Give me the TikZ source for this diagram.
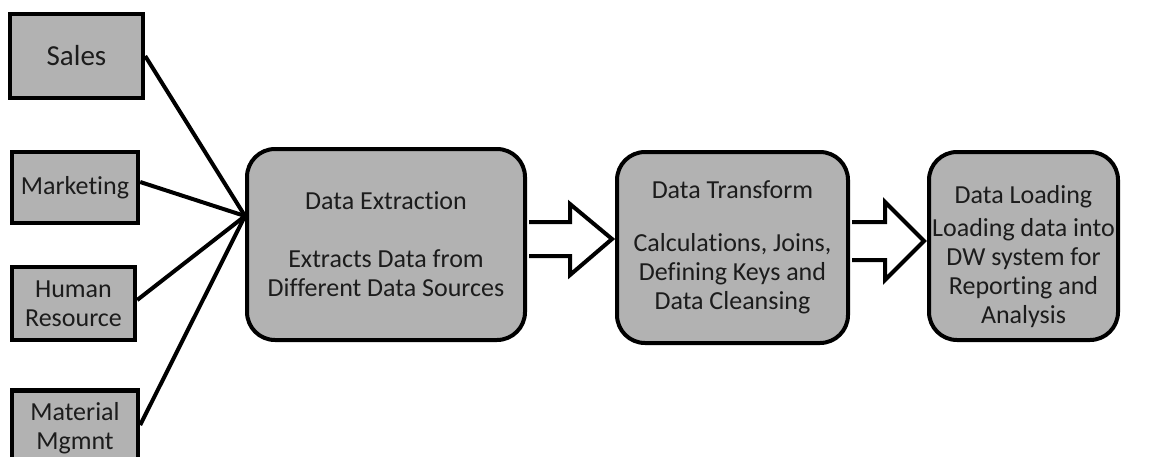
\documentclass[tikz,border=0pt]{standalone}
\usepackage{fontspec}
\setmainfont{Carlito}[Ligatures={NoCommon}]
\usetikzlibrary{calc}
\definecolor{boxgray}{RGB}{178,178,178}
\definecolor{inkgray}{RGB}{28,28,28}

\begin{document}
\begin{tikzpicture}[x=0.5pt,y=-0.5pt,
  src/.style={draw,line width=2.2pt,fill=boxgray,text=inkgray,align=center,
    inner sep=0pt,font=\fontsize{13}{14.5}\selectfont},
  stage/.style={draw,line width=2pt,fill=boxgray,rounded corners=14pt,text=inkgray,
    align=center,inner sep=0pt,minimum height=95.5pt,font=\fontsize{13}{14.5}\selectfont},
  fatarrow/.style={draw,line width=2pt,fill=white,line join=miter},
  link/.style={line width=2pt}]
  \path[use as bounding box,clip] (0,0) rectangle (1156,456);
  % sources
  \node[src,minimum width=66.5pt,minimum height=42pt,font=\fontsize{14.5}{16}\selectfont] (sales) at (76.5,56) {Sales};
  \node[src,minimum width=63pt,minimum height=35.5pt] (mkt) at (75,187.5) {Marketing};
  \node[src,minimum width=61.5pt,minimum height=36.5pt] (hr) at (73.5,303.5) {Human\\Resource};
  \node[src,minimum width=63pt,minimum height=37.5pt] (mat) at (75,428) {Material\\Mgmnt};
  % stages
  \node[stage,minimum width=139pt] (extract) at (386,244.5)
    {Data Extraction\\[14.5pt]Extracts Data from\\Different Data Sources};
  \node[stage,minimum width=115.5pt] (transform) at (732.5,247.5)
    {Data Transform\\[12pt]Calculations, Joins,\\Defining Keys and\\Data Cleansing};
  \node[stage,minimum width=94.5pt,minimum height=94pt] (load) at (1023.5,246)
    {\rule{0pt}{20pt}Data Loading\\[2pt]Loading data into\\DW system for\\Reporting and\\Analysis};
  % links into extraction
  \coordinate (hub) at (245,216);
  \draw[link] (sales.east) -- (hub);
  \draw[link] ([yshift=2.75pt]mkt.east) -- (hub);
  \draw[link] ([yshift=1.75pt]hr.east) -- (hub);
  \draw[link] ([yshift=1.5pt]mat.east) -- (hub);
  % block arrows
  \coordinate (e1) at ([xshift=1pt]extract.east);
  \coordinate (t1) at ([xshift=-1.5pt]transform.west);
  \draw[fatarrow] (e1 |- 0,222) -- (570,222) -- (570,204) -- (t1 |- 0,239)
    -- (570,275) -- (570,256) -- (e1 |- 0,256);
  \coordinate (e2) at ([xshift=1pt]transform.east);
  \coordinate (t2) at ([xshift=-1.5pt]load.west);
  \draw[fatarrow] (e2 |- 0,222) -- (885,222) -- (885,202) -- (t2 |- 0,241)
    -- (885,280) -- (885,260) -- (e2 |- 0,260);
\end{tikzpicture}
\end{document}
